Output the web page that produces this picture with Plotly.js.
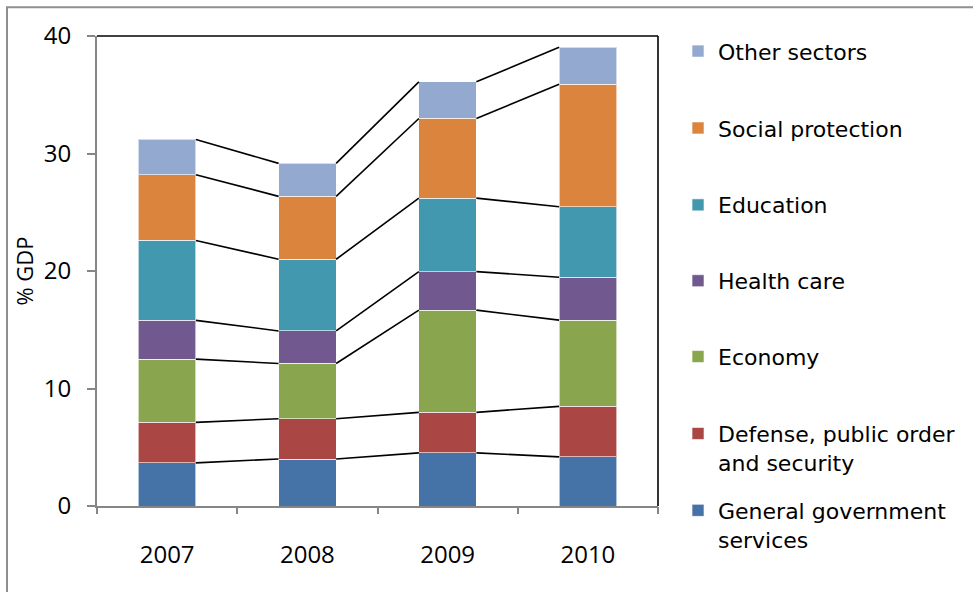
<!DOCTYPE html>
<html><head><meta charset="utf-8">
<script src="https://cdn.plot.ly/plotly-3.0.1.min.js"></script>
<style>html,body{margin:0;padding:0;background:#fff}#chart{width:973px;height:592px}</style>
</head><body><div id="chart"></div>
<script>
const years = ['2007', '2008', '2009', '2010'];
const general = [3.67, 4.00, 4.52, 4.18];
const defense = [3.45, 3.43, 3.45, 4.30];
const economy = [5.38, 4.70, 8.70, 7.34];
const health = [3.30, 2.77, 3.28, 3.65];
const education = [6.80, 6.10, 6.25, 6.00];
const social = [5.60, 5.35, 6.78, 10.43];
const other = [3.00, 2.81, 3.12, 3.14];
const names = ['General government<br>services', 'Defense, public order<br>and security', 'Economy', 'Health care', 'Education', 'Social protection', 'Other sectors'];
const colors = ['#4572A7', '#AA4643', '#89A54E', '#71588F', '#4198AF', '#DB843D', '#93A9CF'];
const series = [general, defense, economy, health, education, social, other];

const W = 0.41;
const xs = years.map((_, i) => i);
const legendIds = ['legend7', 'legend6', 'legend5', 'legend4', 'legend3', 'legend2', 'legend'];
const traces = [];
series.forEach((vals, k) => {
  traces.push({
    type: 'bar', x: xs, y: vals, width: W, name: names[k],
    marker: {color: colors[k], line: {color: 'rgba(255,255,255,0.6)', width: 1}},
    legend: legendIds[k],
    hoverinfo: 'y+name'
  });
});
// series lines connecting segment tops
const cum = years.map(() => 0);
series.forEach((vals, k) => {
  vals.forEach((v, i) => { cum[i] += v; });
  const lx = [], ly = [];
  for (let i = 0; i < years.length - 1; i++) {
    lx.push(i + W / 2, i + 1 - W / 2, null);
    ly.push(cum[i], cum[i + 1], null);
  }
  traces.push({type: 'scatter', mode: 'lines', x: lx, y: ly, showlegend: false,
    line: {color: '#000', width: 1.6}, hoverinfo: 'skip'});
});

const axisGray = '#868686';
const legendFont = {size: 22, family: 'DejaVu Sans, sans-serif', color: '#000'};
const legendTops = [1.0121, 0.8486, 0.6850, 0.5236, 0.3622, 0.1986, 0.0350];
const layout = {
  width: 973, height: 592,
  margin: {l: 97, r: 315, t: 36, b: 85.5},
  paper_bgcolor: '#fff', plot_bgcolor: '#fff',
  barmode: 'stack',
  showlegend: true,
  font: {family: 'Open Sans, sans-serif', color: '#000'},
  xaxis: {
    range: [-0.5, 3.5], tickvals: xs, ticktext: years, ticks: '',
    showline: true, linecolor: axisGray, linewidth: 2, zeroline: false, showgrid: false,
    tickfont: {size: 24, family: 'Open Sans, sans-serif', color: '#000'},
    ticklabelstandoff: 26, fixedrange: true
  },
  xaxis2: {
    overlaying: 'x', side: 'bottom', range: [-0.5, 3.5],
    tickvals: [-0.5, 0.5, 1.5, 2.5, 3.5], ticks: 'outside', ticklen: 7, tickwidth: 2, tickcolor: axisGray,
    showticklabels: false, showline: false, showgrid: false, zeroline: false
  },
  yaxis: {
    range: [0, 40], tickvals: [0, 10, 20, 30, 40], ticks: 'outside', ticklen: 8, tickwidth: 2, tickcolor: axisGray,
    showline: true, linecolor: axisGray, linewidth: 2, showgrid: false, zeroline: false,
    tickfont: {size: 24, family: 'Open Sans, sans-serif', color: '#000'},
    ticklabelstandoff: 11,
    title: {text: '% GDP', font: {size: 22, family: 'Open Sans, sans-serif', color: '#000'}, standoff: 4}
  },
  shapes: [
    {type: 'line', xref: 'paper', yref: 'paper', x0: 0, x1: 1, y0: 1, y1: 1, line: {color: '#000', width: 1.6}},
    {type: 'line', xref: 'paper', yref: 'paper', x0: 1, x1: 1, y0: 0, y1: 1, line: {color: '#000', width: 1.6}},
    {type: 'rect', xref: 'paper', yref: 'paper', x0: -0.1604, x1: 2, y0: -1, y1: 1.061, line: {color: '#8f8f8f', width: 2}, layer: 'below'}
  ]
};
['legend', 'legend2', 'legend3', 'legend4', 'legend5', 'legend6', 'legend7'].forEach((id, j) => {
  layout[id] = {x: 1.0357, xanchor: 'left', y: legendTops[j], yanchor: 'top', valign: 'top',
    font: legendFont, bgcolor: 'rgba(0,0,0,0)'};
});
// invisible trace on xaxis2 so its boundary ticks render
traces.push({type: 'scatter', x: [0], y: [0], xaxis: 'x2', mode: 'markers', marker: {opacity: 0}, showlegend: false, hoverinfo: 'skip'});
Plotly.newPlot('chart', traces, layout, {displayModeBar: false, staticPlot: true});
</script></body></html>
